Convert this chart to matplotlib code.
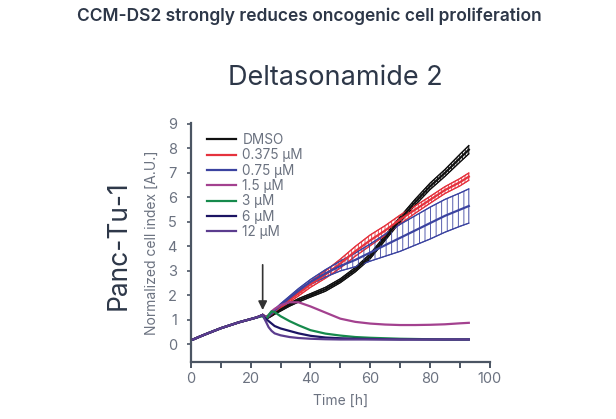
import numpy as np
import matplotlib
matplotlib.use("Agg")
import matplotlib.pyplot as plt

plt.rcParams['font.family'] = ['Inter', 'DejaVu Sans']
plt.rcParams['hatch.linewidth'] = 0.6

# ---- data ----
t_pre = [0.7, 3, 5, 7.5, 10, 13, 16, 19, 22, 24]
y_pre = [0.2, 0.32, 0.42, 0.54, 0.66, 0.78, 0.9, 1.0, 1.1, 1.2]

t_post = [24, 25, 26, 27, 28, 30, 33, 36, 40, 45, 50, 55, 60, 65, 70, 75, 80, 85, 90, 93]

dmso = [1.2, 1.08, 1.12, 1.2, 1.28, 1.42, 1.62, 1.8, 2.0, 2.25, 2.6, 3.05, 3.6, 4.35, 5.1, 5.8, 6.45, 7.0, 7.6, 7.95]
dmso_err = [0.03, 0.04, 0.04, 0.05, 0.05, 0.06, 0.06, 0.07, 0.07, 0.08, 0.08, 0.09, 0.1, 0.1, 0.11, 0.12, 0.13, 0.14, 0.16, 0.17]

c0375 = [1.2, 1.1, 1.15, 1.25, 1.35, 1.55, 1.82, 2.08, 2.45, 2.85, 3.3, 3.8, 4.25, 4.65, 5.1, 5.5, 5.9, 6.3, 6.62, 6.85]
c0375_err = [0.03, 0.04, 0.04, 0.05, 0.05, 0.07, 0.09, 0.1, 0.12, 0.15, 0.18, 0.2, 0.22, 0.2, 0.18, 0.15, 0.14, 0.14, 0.15, 0.15]

c075 = [1.2, 1.1, 1.15, 1.27, 1.38, 1.6, 1.9, 2.2, 2.55, 2.9, 3.2, 3.45, 3.75, 4.05, 4.35, 4.65, 4.95, 5.25, 5.5, 5.65]
c075_err = [0.03, 0.04, 0.04, 0.05, 0.05, 0.06, 0.07, 0.08, 0.1, 0.15, 0.2, 0.28, 0.35, 0.45, 0.55, 0.6, 0.65, 0.67, 0.68, 0.7]

c15 = [1.2, 1.1, 1.2, 1.35, 1.45, 1.6, 1.72, 1.72, 1.55, 1.3, 1.05, 0.92, 0.85, 0.81, 0.79, 0.79, 0.8, 0.82, 0.86, 0.88]
c3 = [1.15, 1.0, 1.2, 1.35, 1.32, 1.15, 0.95, 0.78, 0.58, 0.44, 0.36, 0.3, 0.27, 0.25, 0.23, 0.22, 0.21, 0.2, 0.2, 0.2]
c6 = [1.2, 1.05, 0.95, 0.85, 0.75, 0.65, 0.55, 0.45, 0.35, 0.28, 0.25, 0.23, 0.22, 0.21, 0.2, 0.2, 0.2, 0.2, 0.2, 0.2]
c12 = [1.2, 0.95, 0.7, 0.55, 0.45, 0.37, 0.3, 0.26, 0.23, 0.21, 0.2, 0.2, 0.2, 0.2, 0.2, 0.2, 0.2, 0.2, 0.2, 0.2]

labels = ['DMSO', '0.375 µM', '0.75 µM', '1.5 µM', '3 µM', '6 µM', '12 µM']
colors = ['#111111', '#e5323d', '#3b43a0', '#a3418f', '#168a4c', '#1c1463', '#5b3c8e']

treatment_time = 24
arrow_tail, arrow_tip = 3.25, 1.4

# ---- figure ----
fig = plt.figure(figsize=(6.16, 4.19), dpi=100)
ax = fig.add_axes([0.310, 0.136, 0.485, 0.571])

axis_col = '#4b5563'
text_col = '#6b7280'
dark = '#2d3748'

series = [dmso, c0375, c075, c15, c3, c6, c12]
errs = {0: dmso_err, 1: c0375_err, 2: c075_err}
hatches = {0: '||||||', 1: '|||||', 2: '|||'}
t_all = np.array(t_pre[:-1] + t_post)

for i, (vals, col, lab) in enumerate(zip(series, colors, labels)):
    y_all = np.array(y_pre[:-1] + vals)
    z = 2 + i * 0.1
    if i in errs:
        e = np.array(errs[i])
        v = np.array(vals)
        ax.fill_between(t_post, v - e, v + e, facecolor='none', edgecolor=col,
                        hatch=hatches[i], linewidth=0.7, zorder=z)
        ax.plot(t_post, v + e, color=col, lw=0.9, zorder=z)
        ax.plot(t_post, v - e, color=col, lw=0.9, zorder=z)
    ax.plot(t_all, y_all, color=col, lw=1.6, label=lab, zorder=z + 1)

ax.annotate('', xy=(treatment_time, arrow_tip), xytext=(treatment_time, arrow_tail),
            arrowprops=dict(arrowstyle='-|>', color='#333333', lw=1.2,
                            mutation_scale=13, shrinkA=0, shrinkB=0))

ax.set_xlim(0, 100)
ax.set_ylim(-0.72, 9.05)
ax.set_xticks(np.arange(0, 101, 10))
ax.set_xticklabels([str(v) if v % 20 == 0 else '' for v in range(0, 101, 10)])
ax.set_yticks(range(0, 10))

for s in ['top', 'right']:
    ax.spines[s].set_visible(False)
for s in ['left', 'bottom']:
    ax.spines[s].set_color(axis_col)
    ax.spines[s].set_linewidth(1.6)
ax.tick_params(axis='x', colors=axis_col, labelcolor=text_col, labelsize=10.5,
               length=4, width=1.4, pad=3)
ax.tick_params(axis='y', colors=axis_col, labelcolor=text_col, labelsize=10.5,
               length=3, width=1.2, pad=7)

ax.set_xlabel('Time [h]', color=text_col, fontsize=10, labelpad=6)
ax.set_ylabel('Normalized cell index [A.U.]', color=text_col, fontsize=10, labelpad=6)

leg = ax.legend(loc='upper left', bbox_to_anchor=(0.054, 0.957), frameon=False,
                fontsize=9.8, handlelength=2.1, handletextpad=0.5, labelspacing=0.1,
                borderpad=0, borderaxespad=0)
for txt in leg.get_texts():
    txt.set_color(text_col)

fig.text(0.502, 0.962, 'CCM-DS2 strongly reduces oncogenic cell proliferation',
         ha='center', va='center', fontsize=12.5, fontweight='semibold', color=dark)
fig.text(0.545, 0.814, 'Deltasonamide 2', ha='center', va='center',
         fontsize=19.5, color=dark)
fig.text(0.192, 0.415, 'Panc-Tu-1', ha='center', va='center', rotation=90,
         fontsize=19, color=dark)

fig.savefig('out.png', dpi=100)
